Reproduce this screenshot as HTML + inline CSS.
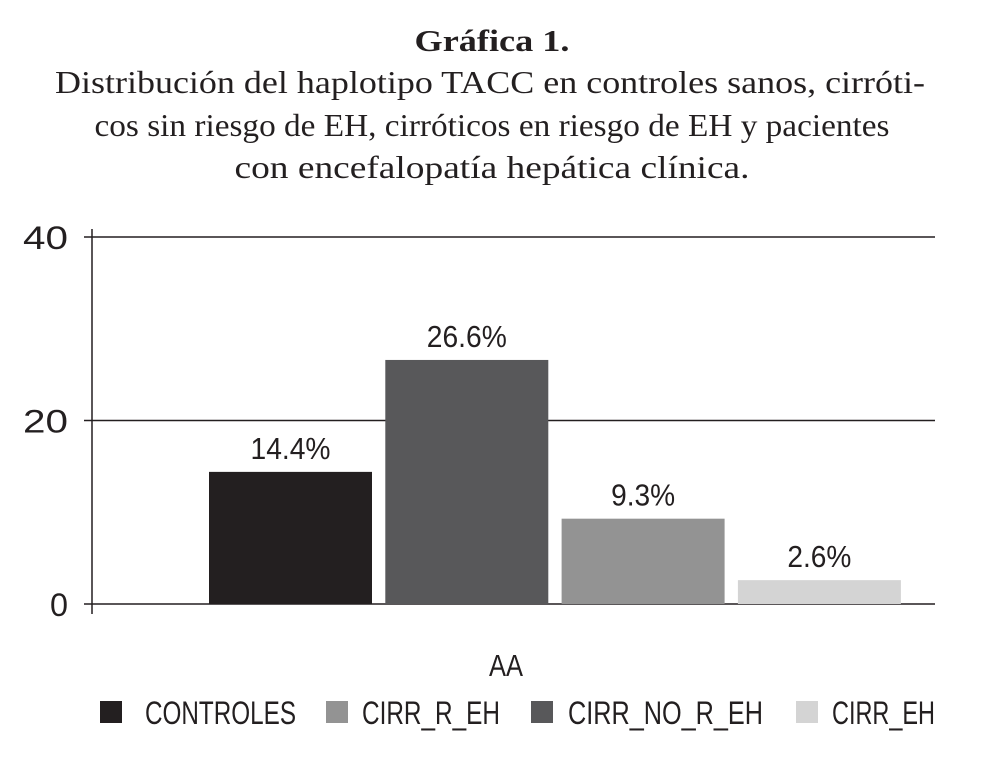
<!DOCTYPE html>
<html><head><meta charset="utf-8"><style>
html,body{margin:0;padding:0;background:#fff;}
svg{display:block;}
.t{font-family:"Liberation Serif",serif;fill:#231f20;}
.s{font-family:"Liberation Sans",sans-serif;fill:#231f20;}
</style></head><body>
<svg id="c" width="987" height="779" viewBox="0 0 987 779">
<text class="t" x="492" y="51" font-size="31" font-weight="bold" text-anchor="middle" textLength="155" lengthAdjust="spacingAndGlyphs">Gráfica 1.</text>
<text class="t" x="55" y="93" font-size="32" textLength="870" lengthAdjust="spacingAndGlyphs">Distribución del haplotipo TACC en controles sanos, cirróti-</text>
<text class="t" x="492" y="136" font-size="32" text-anchor="middle" textLength="795" lengthAdjust="spacingAndGlyphs">cos sin riesgo de EH, cirróticos en riesgo de EH y pacientes</text>
<text class="t" x="492" y="178" font-size="32" text-anchor="middle" textLength="515" lengthAdjust="spacingAndGlyphs">con encefalopatía hepática clínica.</text>
<g id="plot"></g>
</svg>
<script>
const categories=["CONTROLES","CIRR_NO_R_EH","CIRR_R_EH","CIRR_EH"];
const values=[14.4,26.6,9.3,2.6];
const labels=["14.4%","26.6%","9.3%","2.6%"];
const colors=["#231f20","#58585a","#939393","#d4d4d4"];
const ticks=[0,20,40];
const legendOrder=["CONTROLES","CIRR_R_EH","CIRR_NO_R_EH","CIRR_EH"];
const NS="http://www.w3.org/2000/svg";
const g=document.getElementById("plot");
const y0=604,y1=237,yMax=40;
function y(v){return y0-(v/yMax)*(y0-y1);}
const barX0=209,barW=163,barStep=176.3;
function x(i){return barX0+i*barStep;}
function mk(t,a){const e=document.createElementNS(NS,t);for(const k in a)e.setAttribute(k,a[k]);g.appendChild(e);return e;}
ticks.forEach(t=>{
 const l=mk("line",{x1:84,x2:935,y1:y(t),y2:y(t),stroke:"#231f20","stroke-width":1.5});
 
 
 const s=String(t);
 const tx=mk("text",{x:68,y:y(t)+12,"font-size":32,"text-anchor":"end",class:"s",textLength:s.length*(t===0?18:22.5),lengthAdjust:"spacingAndGlyphs"});
 tx.textContent=s;
 
 
});
const ax=mk("line",{x1:92,x2:92,y1:229,y2:614,stroke:"#231f20","stroke-width":1.5});


values.forEach((v,i)=>{
 const r=mk("rect",{x:x(i),y:y(v),width:barW,height:y0-y(v),fill:colors[i]});
 
 
 const t=mk("text",{x:x(i)+barW/2,y:y(v)-13,"font-size":31,"text-anchor":"middle",class:"s",textLength:labels[i].length*16,lengthAdjust:"spacingAndGlyphs"});
 t.textContent=labels[i];
 
 
});
const xl=mk("text",{x:506,y:676,"font-size":31,"text-anchor":"middle",class:"s",textLength:34,lengthAdjust:"spacingAndGlyphs"});
xl.textContent="AA";


const legSq=[100,326,531,796],legTx=[145,362,568,832],legW=[151,138,195,103];
legendOrder.forEach((n,i)=>{
 const c=colors[categories.indexOf(n)];
 const s=mk("rect",{x:legSq[i],y:701,width:22,height:22,fill:c});
 
 
 const t=mk("text",{x:legTx[i],y:724,"font-size":32,class:"s",textLength:legW[i],lengthAdjust:"spacingAndGlyphs"});
 t.textContent=n;
 
 
});
</script>
</body></html>
